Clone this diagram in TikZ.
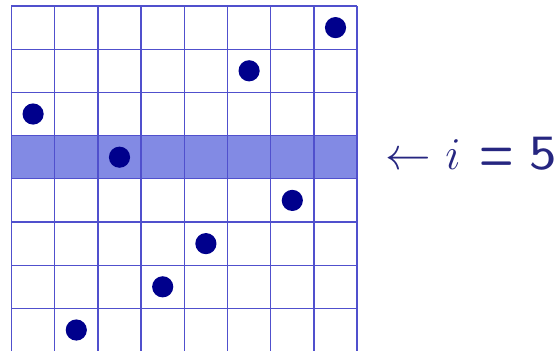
\documentclass[tikz,border=0pt]{standalone}
\definecolor{gridc}{RGB}{80,80,205}
\definecolor{rowc}{RGB}{130,138,228}
\definecolor{dotc}{RGB}{0,0,140}
\definecolor{txtc}{RGB}{38,38,128}
\begin{document}
\begin{tikzpicture}[x=1cm,y=1cm,
  gridline/.style={draw=gridc,line width=0.9pt},
  queen/.style={circle,fill=dotc,inner sep=0pt,minimum size=0.49cm}]
\useasboundingbox (-0.266,0.037) rectangle (12.65,8.139);
\fill[rowc] (0,4) rectangle (8,5);
\draw[gridline] (0,0) grid (8,8);
\node[queen] (q1) at (7.5,7.5) {};
\node[queen] (q2) at (5.5,6.5) {};
\node[queen] (q3) at (0.5,5.5) {};
\node[queen] (q4) at (2.5,4.5) {};
\node[queen] (q5) at (6.5,3.5) {};
\node[queen] (q6) at (4.5,2.5) {};
\node[queen] (q7) at (3.5,1.5) {};
\node[queen] (q8) at (1.5,0.5) {};
\node[anchor=base west,text=txtc,inner sep=0pt] (lbl) at (8.629,4.227)
  {\makebox[1.076cm][c]{\scalebox{1.736}{\LARGE$\leftarrow$}}%
   \makebox[1.0125cm][c]{\scalebox{1.736}{\LARGE$i$}}%
   \makebox[1.0245cm][c]{\raisebox{-0.07cm}{\scalebox{1.5}[2.4]{\LARGE\boldmath$=$}}}%
   \makebox[1.10cm][c]{\scalebox{2.22}[1.88]{\LARGE\sffamily 5}}};
\end{tikzpicture}
\end{document}
